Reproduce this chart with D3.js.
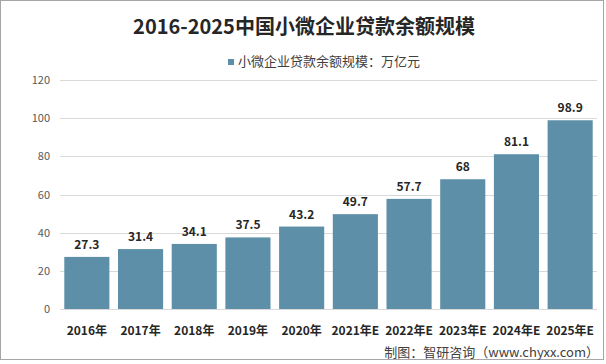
<!DOCTYPE html>
<html><head><meta charset="utf-8">
<script src="https://cdn.jsdelivr.net/npm/d3@7"></script>
<style>body{margin:0;background:#fff;}svg{display:block;font-family:"Noto Sans CJK SC","Microsoft YaHei",sans-serif;}</style>
</head><body><svg id="c" width="606" height="364"></svg>
<script>
const categories = ["2016年","2017年","2018年","2019年","2020年","2021年E","2022年E","2023年E","2024年E","2025年E"];
const values = [27.3,31.4,34.1,37.5,43.2,49.7,57.7,68,81.1,98.9];
const yTicks = [0,20,40,60,80,100,120];
const title = "2016-2025中国小微企业贷款余额规模";
const seriesName = "小微企业贷款余额规模：万亿元";
const source = "制图：智研咨询（www.chyxx.com）";

const svg = d3.select("#c");
const color = "#5d8fa8";
svg.append("rect").attr("x",0.5).attr("y",0.5).attr("width",603).attr("height",359).attr("fill","#fff").attr("stroke","#a6a6a6");

const x = d3.scaleBand().domain(categories).range([60,597]).paddingInner(0.16).paddingOuter(0.08);
const y = d3.scaleLinear().domain([0,120]).range([309,80]);

svg.append("text").attr("x",304).attr("y",34).attr("text-anchor","middle").attr("font-size",20).attr("font-weight","bold").attr("fill","#262626").text(title);

svg.append("rect").attr("x",228).attr("y",59).attr("width",6).attr("height",6).attr("fill",color);
svg.append("text").attr("x",238).attr("y",66).attr("font-size",13).attr("fill","#404040").text(seriesName);

const g = svg.append("g");
g.selectAll("line.grid").data(yTicks).join("line").attr("class","grid")
 .attr("x1",60).attr("x2",597).attr("y1",d=>Math.round(y(d))+0.5).attr("y2",d=>Math.round(y(d))+0.5)
 .attr("stroke","#d9d9d9").attr("stroke-width",1);
g.selectAll("text.yt").data(yTicks).join("text").attr("class","yt")
 .attr("x",50).attr("y",d=>y(d)+4).attr("text-anchor","end").attr("font-size",11).attr("fill","#595959").text(d=>d);

g.selectAll("rect.bar").data(values).join("rect").attr("class","bar")
 .attr("x",(d,i)=>x(categories[i])).attr("width",x.bandwidth())
 .attr("y",d=>y(d)).attr("height",d=>y(0)-y(d)).attr("fill",color);
g.selectAll("text.lbl").data(values).join("text").attr("class","lbl")
 .attr("x",(d,i)=>x(categories[i])+x.bandwidth()/2).attr("y",d=>y(d)-8)
 .attr("text-anchor","middle").attr("font-size",12).attr("font-weight","bold").attr("fill","#262626").text(d=>d);

g.selectAll("text.xt").data(categories).join("text").attr("class","xt")
 .attr("x",d=>x(d)+x.bandwidth()/2).attr("y",335).attr("text-anchor","middle")
 .attr("font-size",12).attr("font-weight","bold").attr("fill","#262626").text(d=>d);

svg.append("text").attr("x",599).attr("y",357).attr("text-anchor","end").attr("font-size",13).attr("fill","#404040").text(source);
</script></body></html>
